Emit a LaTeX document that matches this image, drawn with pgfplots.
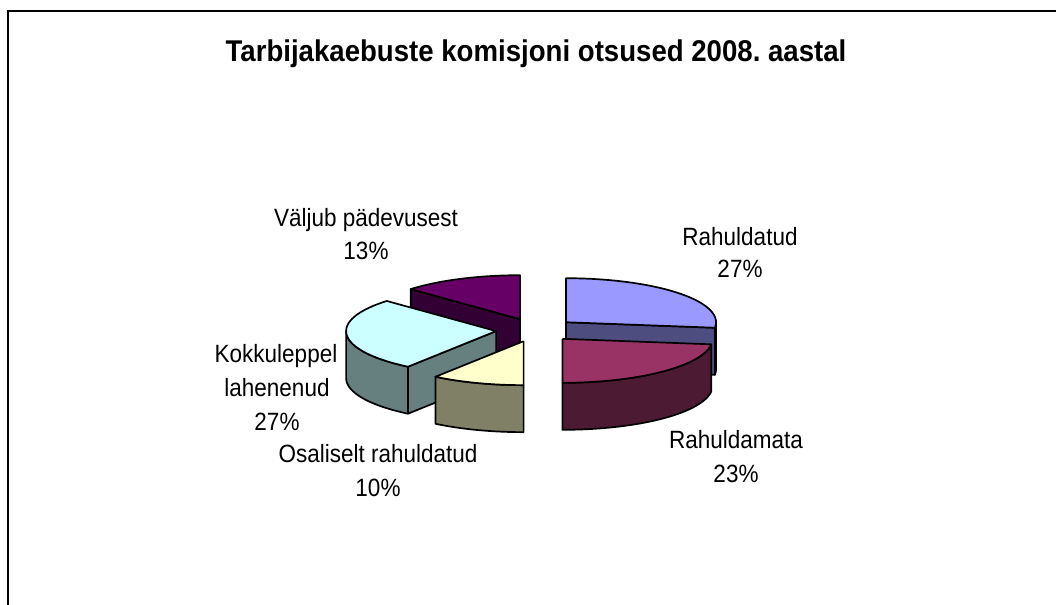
\documentclass[border=0pt]{standalone}
\usepackage{fontspec}
\setmainfont{Liberation Sans}
\newfontfamily\labfont[FakeStretch=0.9]{Liberation Sans}
\newfontfamily\titfont[FakeStretch=0.92]{Liberation Sans}
\usepackage{pgfplots}
\pgfplotsset{compat=1.18}
\frenchspacing

% slice shares (percent), clockwise from 12 o'clock
\def\pA{27}% Rahuldatud
\def\pB{23}% Rahuldamata
\def\pC{10}% Osaliselt rahuldatud
\def\pD{27}% Kokkuleppel lahenenud
\def\pE{13}% Valjub padevusest

% geometry (1 unit = 1bp = 1px)
\def\cx{536}\def\cy{275}\def\rx{150}\def\ry{44}\def\hh{47}\def\ex{0.267}

\definecolor{topA}{HTML}{9999FF}\definecolor{sideA}{HTML}{4D4D80}
\definecolor{topB}{HTML}{993366}\definecolor{sideB}{HTML}{4D1A33}
\definecolor{topC}{HTML}{FFFFCC}\definecolor{sideC}{HTML}{808066}
\definecolor{topD}{HTML}{CCFFFF}\definecolor{sideD}{HTML}{668080}
\definecolor{topE}{HTML}{660066}\definecolor{sideE}{HTML}{330033}

\tikzset{
  slice/.style={draw=black, line width=1.7bp, line join=round},
  lab/.style={anchor=base, inner sep=0pt, font=\labfont\fontsize{25bp}{28bp}\selectfont},
}

\newcommand\setvertex[2]{%
  \pgfmathsetmacro\sliceA{#1}\pgfmathsetmacro\sliceB{#2}%
  \pgfmathsetmacro\vertX{\cx+\ex*\rx*sin((\sliceA+\sliceB)/2)}%
  \pgfmathsetmacro\vertY{\cy+\ex*\ry*cos((\sliceA+\sliceB)/2)}}
% top face of slice a..b
\newcommand\topface[3]{%
  \setvertex{#1}{#2}%
  \addplot[slice, fill=#3, domain=0:3, samples=151, variable=\t]
   ({\vertX+(min(\t,1)-max(\t-2,0))*\rx*sin(\sliceA+(\sliceB-\sliceA)*min(max(\t-1,0),1))},
    {\vertY+(min(\t,1)-max(\t-2,0))*\ry*cos(\sliceA+(\sliceB-\sliceA)*min(max(\t-1,0),1))});}
% outer wall of slice a..b, between angles c..d
\newcommand\outerwall[5]{%
  \setvertex{#1}{#2}%
  \pgfmathsetmacro\angC{#3}\pgfmathsetmacro\angD{#4}%
  \addplot[slice, fill=#5, domain=0:4, samples=201, variable=\t]
   ({\vertX+\rx*sin(\angC+(\angD-\angC)*(min(\t,1)-max(min(\t,3)-2,0)))},
    {\vertY+\ry*cos(\angC+(\angD-\angC)*(min(\t,1)-max(min(\t,3)-2,0)))-\hh*(min(max(\t-1,0),1)-max(\t-3,0))});}
% radial face of slice a..b at angle c
\newcommand\radialface[4]{%
  \setvertex{#1}{#2}%
  \pgfmathsetmacro\angC{#3}%
  \addplot[slice, fill=#4, samples at={0,1,2,3,4}, variable=\t]
   ({\vertX+(\t>0.5)*(\t<2.5)*\rx*sin(\angC)},
    {\vertY+(\t>0.5)*(\t<2.5)*\ry*cos(\angC)-\hh*(\t>1.5)*(\t<3.5)});}

\begin{document}
\begin{tikzpicture}
\useasboundingbox (0,0) rectangle (1056bp,605bp);
\pgfmathsetmacro\aA{0}
\pgfmathsetmacro\bA{\aA+3.6*\pA}
\pgfmathsetmacro\bB{\bA+3.6*\pB}
\pgfmathsetmacro\bC{\bB+3.6*\pC}
\pgfmathsetmacro\bD{\bC+3.6*\pD}
\pgfmathsetmacro\bE{\bD+3.6*\pE}
\begin{axis}[
  at={(0,0)}, anchor=south west,
  width=1056bp, height=605bp, scale only axis,
  xmin=0, xmax=1056, ymin=0, ymax=605,
  hide axis, clip=false,
]
% frame
\addplot[black, line width=2.2bp, mark=none] coordinates {(8,-2) (8,594) (1058,594)};
% title
\node[anchor=base, inner sep=0pt, font=\titfont\bfseries\fontsize{30bp}{34bp}\selectfont]
  at (axis cs:536,543) {Tarbijakaebuste komisjoni otsused 2008. aastal};

% Valjub padevusest (back left)
\radialface{\bD}{\bE}{\bD}{sideE}
\topface{\bD}{\bE}{topE}
% Rahuldatud (back right)
\outerwall{\aA}{\bA}{90}{\bA}{sideA}
\radialface{\aA}{\bA}{\bA}{sideA}
\topface{\aA}{\bA}{topA}
% Kokkuleppel lahenenud
\outerwall{\bC}{\bD}{\bC}{270}{sideD}
\radialface{\bC}{\bD}{\bC}{sideD}
\topface{\bC}{\bD}{topD}
% Rahuldamata
\outerwall{\bA}{\bB}{\bA}{\bB}{sideB}
\topface{\bA}{\bB}{topB}
% Osaliselt rahuldatud
\outerwall{\bB}{\bC}{\bB}{\bC}{sideC}
\topface{\bB}{\bC}{topC}

% labels
\node[lab] at (axis cs:740,359) {Rahuldatud};
\node[lab] at (axis cs:740,327) {27\%};
\node[lab] at (axis cs:736,156) {Rahuldamata};
\node[lab] at (axis cs:736,122) {23\%};
\node[lab] at (axis cs:378,142) {Osaliselt rahuldatud};
\node[lab] at (axis cs:378,108) {10\%};
\node[lab] at (axis cs:276,242) {Kokkuleppel};
\node[lab] at (axis cs:277,208) {lahenenud};
\node[lab] at (axis cs:277,174) {27\%};
\node[lab] at (axis cs:366,378) {Väljub pädevusest};
\node[lab] at (axis cs:366,345) {13\%};
\end{axis}
\end{tikzpicture}
\end{document}
